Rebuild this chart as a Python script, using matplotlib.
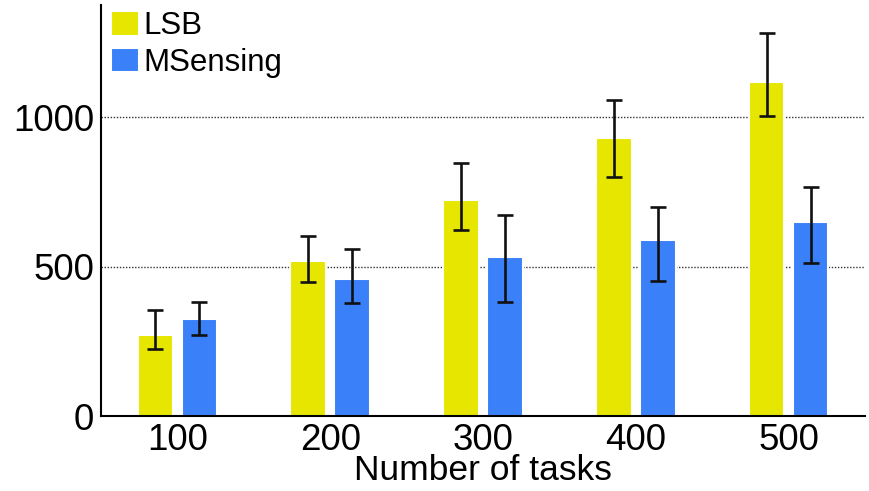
import numpy as np
import matplotlib
matplotlib.use("Agg")
import matplotlib.pyplot as plt

# values
tasks = ["100", "200", "300", "400", "500"]
lsb_mean = [270, 518, 722, 931, 1117]
lsb_upper = [353, 603, 847, 1057, 1280]
lsb_lower = [223, 447, 623, 801, 1003]
ms_mean = [323, 458, 533, 590, 650]
ms_upper = [383, 560, 673, 698, 767]
ms_lower = [270, 377, 380, 451, 513]

plt.rcParams["font.family"] = ["Liberation Sans", "DejaVu Sans"]

fig = plt.figure(figsize=(8.69, 4.91), dpi=100)
ax = fig.add_axes([101 / 869, 75 / 491, 764 / 869, 411 / 491])

x = np.arange(1, len(tasks) + 1)
width = 0.232
off = 0.144

lsb_err = [np.subtract(lsb_mean, lsb_lower), np.subtract(lsb_upper, lsb_mean)]
ms_err = [np.subtract(ms_mean, ms_lower), np.subtract(ms_upper, ms_mean)]

ax.bar(x - off, lsb_mean, width, color="#e6e600", edgecolor="white", linewidth=1.5,
       label="LSB", zorder=2)
ax.bar(x + off, ms_mean, width, color="#3a80f8", edgecolor="white", linewidth=1.5,
       label="MSensing", zorder=2)
ax.errorbar(x - off, lsb_mean, yerr=lsb_err, fmt="none", ecolor="#111111",
            elinewidth=1.9, capsize=6, capthick=1.9, zorder=3)
ax.errorbar(x + off, ms_mean, yerr=ms_err, fmt="none", ecolor="#111111",
            elinewidth=1.9, capsize=6, capthick=1.9, zorder=3)

for yv in [500, 1000]:
    ax.axhline(yv, color="#333333", linestyle=(0, (1, 1.2)), linewidth=1.0, zorder=1)

ax.set_xlim(0.5, 5.5)
ax.set_ylim(0, 1375)
ax.set_xticks(x)
ax.set_xticklabels(tasks)
ax.set_yticks([0, 500, 1000])
ax.tick_params(axis="both", length=0, labelsize=26.5)
ax.tick_params(axis="x", pad=5)
ax.tick_params(axis="y", pad=5)
ax.set_xlabel("Number of tasks", fontsize=25.5, labelpad=-2.5)

for s in ["top", "right"]:
    ax.spines[s].set_visible(False)
for s in ["left", "bottom"]:
    ax.spines[s].set_linewidth(1.5)
    ax.spines[s].set_zorder(4)

ax.legend(loc="upper left", bbox_to_anchor=(111 / 869, 1 - 11 / 491),
          bbox_transform=fig.transFigure, frameon=False, fontsize=22.5,
          handlelength=0.9, handleheight=0.85, handletextpad=0.15,
          labelspacing=0.2, borderpad=0, borderaxespad=0)

fig.savefig("out.png", dpi=100)
